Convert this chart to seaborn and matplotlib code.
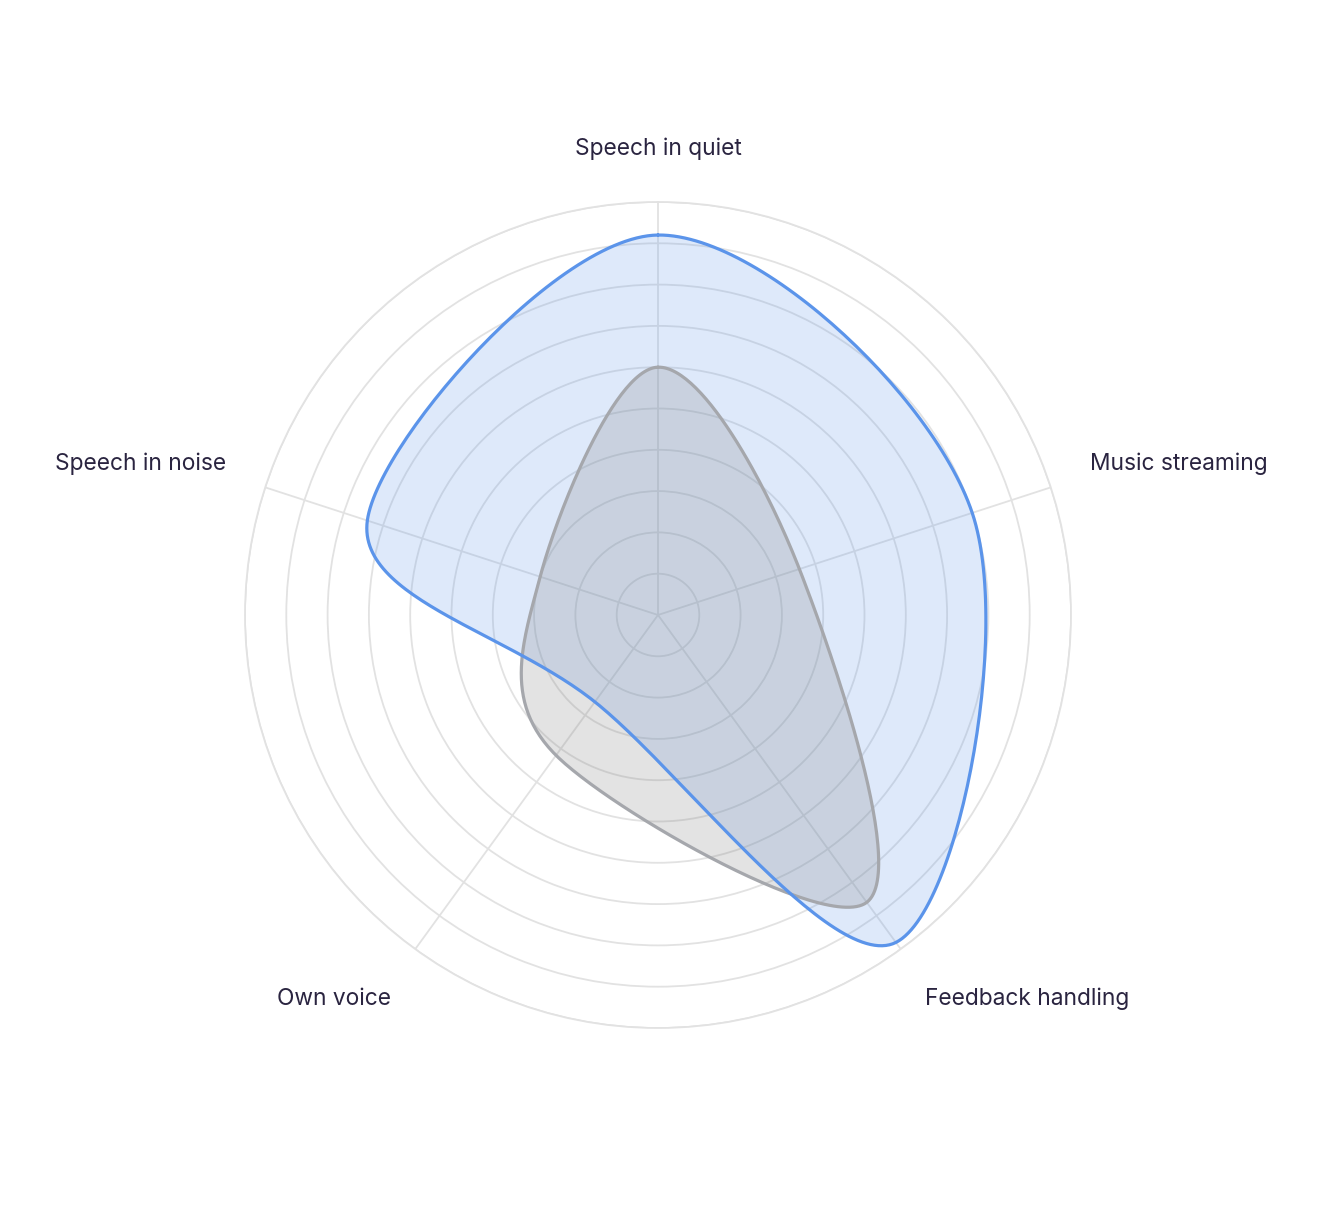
import numpy as np
import pandas as pd
import matplotlib
matplotlib.use('Agg')
import matplotlib.pyplot as plt
import seaborn as sns

categories = ['Speech in quiet', 'Music streaming', 'Feedback handling', 'Own voice', 'Speech in noise']
blue_values = [92, 80, 98, 26, 74]
gray_values = [60, 36, 86, 42, 30]

sns.set_style('white')
plt.rcParams['font.family'] = ['Inter', 'DejaVu Sans']

df = pd.DataFrame({'category': categories, 'blue': blue_values, 'gray': gray_values})
n = len(df)
angles = np.arange(n) * 2 * np.pi / n          # clockwise from north


def smooth_closed(values, steps=60):
    # closed catmull-rom in cartesian space, returned as (theta, r)
    v = np.array(values, dtype=float)
    x = v * np.sin(angles)
    y = v * np.cos(angles)
    px, py = [], []
    for i in range(n):
        p0 = np.array([x[i - 1], y[i - 1]])
        p1 = np.array([x[i], y[i]])
        p2 = np.array([x[(i + 1) % n], y[(i + 1) % n]])
        p3 = np.array([x[(i + 2) % n], y[(i + 2) % n]])
        for t in np.linspace(0, 1, steps, endpoint=False):
            t2, t3 = t * t, t * t * t
            pt = 0.5 * (2 * p1 + (-p0 + p2) * t + (2 * p0 - 5 * p1 + 4 * p2 - p3) * t2
                        + (-p0 + 3 * p1 - 3 * p2 + p3) * t3)
            px.append(pt[0])
            py.append(pt[1])
    px.append(px[0])
    py.append(py[0])
    px, py = np.array(px), np.array(py)
    theta = np.arctan2(px, py)
    r = np.hypot(px, py)
    return np.unwrap(theta), r


fig = plt.figure(figsize=(13.42, 12.08), dpi=100)
ax = fig.add_axes([0.18256, 0.149, 0.6155, 0.6838], projection='polar')
ax.set_theta_zero_location('N')
ax.set_theta_direction(-1)
ax.set_ylim(0, 100)

grid_col = '#e2e2e2'
ax.set_yticks(np.arange(10, 101, 10))
ax.set_yticklabels([])
ax.set_xticks(angles)
ax.set_xticklabels([])
ax.grid(True, color=grid_col, linewidth=1.3)
ax.spines['polar'].set_color(grid_col)
ax.spines['polar'].set_linewidth(1.3)

tb, rb = smooth_closed(df['blue'])
tg, rg = smooth_closed(df['gray'])

ax.fill(tb, rb, color='#5b94ea', alpha=0.2, linewidth=0, zorder=2)
ax.fill(tg, rg, color='#808080', alpha=0.22, linewidth=0, zorder=3)
ax.plot(tg, rg, color='#a5a7ac', linewidth=2.3, zorder=4)
ax.plot(tb, rb, color='#5b94ea', linewidth=2.3, zorder=5)

# axis labels
label_col = '#2a2440'
offsets = [(0, 0), (0, 8), (0, -12), (0, -12), (0, 8)]
aligns = ['center', 'left', 'left', 'right', 'right']
for i, cat in enumerate(df['category']):
    r = 1.128 * 100 if i == 0 else 1.1 * 100
    ax.annotate(cat, xy=(angles[i], r), xytext=offsets[i], textcoords='offset points',
                ha=aligns[i], va='center', fontsize=16.4, color=label_col,
                annotation_clip=False)

fig.savefig('out.png', dpi=100, facecolor='white')
